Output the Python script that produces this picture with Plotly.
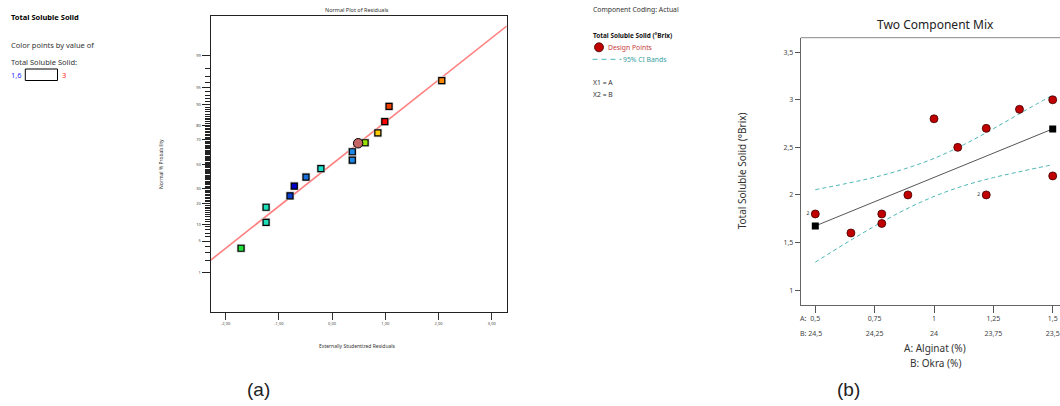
import plotly.graph_objects as go
from statistics import NormalDist

W, H = 1060, 406
OFF = 0  # body margin removed by post_script below
nd = NormalDist()

# ---------------- Data: (a) Normal plot of residuals ----------------
resid = [-1.71, -1.24, -1.24, -0.79, -0.71, -0.49, -0.21, 0.38, 0.38, 0.62, 0.86, 0.99, 1.07, 2.06]
prob = [3.6, 10.7, 17.9, 25.0, 32.1, 39.3, 46.4, 53.6, 60.7, 67.9, 75.0, 82.1, 89.3, 96.4]
point_colors = ['#22e03a', '#1de0b8', '#1de0b8', '#0b3fd0', '#0000c8', '#1a6fd8', '#19e0c8',
                '#1e88e8', '#1e88e8', '#9ae600', '#ffcc00', '#ff0000', '#f04000', '#ff8800']
sel_resid = [0.49]
sel_prob = [67.5]
fit_resid = [-2.28, 3.28]
fit_prob = [2.0, 99.85]
prob_ticks = [1, 5, 10, 20, 30, 50, 70, 80, 90, 95, 99]
prob_minor = [p for p in range(1, 100) if p not in prob_ticks]
resid_ticks = [-2, -1, 0, 1, 2, 3]
resid_ticktext = ['-2,00', '-1,00', '0,00', '1,00', '2,00', '3,00']

# ---------------- Data: (b) Two component mix ----------------
alginat = [0.5, 0.65, 0.78, 0.78, 0.89, 1.0, 1.1, 1.22, 1.22, 1.36, 1.5, 1.5]
tss = [1.8, 1.6, 1.8, 1.7, 2.0, 2.8, 2.5, 2.7, 2.0, 2.9, 3.0, 2.2]
replicate_label = ['2', '', '', '', '', '', '', '', '2', '', '', '']
fit_alginat = [0.5, 1.5]
fit_tss = [1.674, 2.694]
band_alginat = [0.5, 0.625, 0.75, 0.875, 1.0, 1.125, 1.25, 1.375, 1.5]
band_upper = [2.055, 2.117, 2.186, 2.273, 2.384, 2.528, 2.696, 2.875, 3.05]
band_lower = [1.293, 1.487, 1.672, 1.841, 1.984, 2.096, 2.182, 2.252, 2.318]
a_ticks = [0.5, 0.75, 1.0, 1.25, 1.5]
a_ticktext = ['0,5', '0,75', '1', '1,25', '1,5']
b_ticktext = ['24,5', '24,25', '24', '23,75', '23,5']
y_ticks = [1, 1.5, 2, 2.5, 3, 3.5]
y_ticktext = ['1', '1,5', '2', '2,5', '3', '3,5']

FONT = 'Noto Sans'


def z(p):
    return nd.inv_cdf(p / 100.0)


def X(px):
    return (px - OFF) / W


def Y(py):
    return 1 - (py - OFF) / H


fig = go.Figure()

# ---- (a) traces ----
fig.add_trace(go.Scatter(x=fit_resid, y=[z(p) for p in fit_prob], mode='lines',
                         line=dict(color='#ff8080', width=1.6), xaxis='x', yaxis='y',
                         showlegend=False, hoverinfo='skip'))
fig.add_trace(go.Scatter(x=resid, y=[z(p) for p in prob], mode='markers',
                         marker=dict(symbol='square', size=8.5, color='#c8c8c8', line=dict(width=0)),
                         xaxis='x', yaxis='y', showlegend=False, hoverinfo='skip'))
fig.add_trace(go.Scatter(x=resid, y=[z(p) for p in prob], mode='markers',
                         marker=dict(symbol='square', size=6, color=point_colors,
                                     line=dict(color='#000000', width=1.2)),
                         xaxis='x', yaxis='y', showlegend=False))
fig.add_trace(go.Scatter(x=sel_resid, y=[z(p) for p in sel_prob], mode='markers',
                         marker=dict(symbol='circle', size=9.5, color='#c46464',
                                     line=dict(color='#000000', width=1)),
                         xaxis='x', yaxis='y', showlegend=False))

# ---- (b) traces ----
fig.add_trace(go.Scatter(x=band_alginat, y=band_upper, mode='lines', line_shape='spline',
                         line=dict(color='#4db6b6', width=1, dash='4px,3px'),
                         xaxis='x2', yaxis='y2', showlegend=False, hoverinfo='skip'))
fig.add_trace(go.Scatter(x=band_alginat, y=band_lower, mode='lines', line_shape='spline',
                         line=dict(color='#4db6b6', width=1, dash='4px,3px'),
                         xaxis='x2', yaxis='y2', showlegend=False, hoverinfo='skip'))
fig.add_trace(go.Scatter(x=fit_alginat, y=fit_tss, mode='lines+markers',
                         line=dict(color='#555555', width=1),
                         marker=dict(symbol='square', size=7, color='#000000'),
                         xaxis='x2', yaxis='y2', showlegend=False))
fig.add_trace(go.Scatter(x=alginat, y=tss, mode='markers+text', text=replicate_label,
                         textposition='middle left', textfont=dict(size=5, color='#333333', family=FONT),
                         marker=dict(symbol='circle', size=8, color='#c00000',
                                     line=dict(color='#400000', width=0.8)),
                         xaxis='x2', yaxis='y2', showlegend=False))
# invisible trace to activate overlaid B-axis
fig.add_trace(go.Scatter(x=a_ticks, y=[None] * len(a_ticks), mode='markers',
                         xaxis='x3', yaxis='y2', showlegend=False, hoverinfo='skip'))

small_tick_font = dict(family=FONT, size=4, color='#444444')
x2_range = [0.4385, 1.5644]
x2_right_px = 1068.0
x2_domain_right = min(1.0, X(x2_right_px))
# clip the range at the figure's right edge (the reference is cut there)
x2_range = [x2_range[0], x2_range[0] + (x2_range[1] - x2_range[0]) *
            (x2_domain_right * W + OFF - 800.7) / (x2_right_px - 800.7)]

fig.update_layout(
    width=W, height=H, margin=dict(l=0, r=0, t=0, b=0),
    paper_bgcolor='white', plot_bgcolor='white',
    font=dict(family=FONT, color='#333333'),
    xaxis=dict(domain=[X(210.7), X(506.7)], range=[-2.28, 3.28], anchor='y',
               tickmode='array', tickvals=resid_ticks, ticktext=resid_ticktext,
               ticks='outside', ticklen=7, tickwidth=1.2, tickcolor='#333333',
               tickfont=small_tick_font, showgrid=False, zeroline=False,
               showline=True, linecolor='#222222', linewidth=1.3, mirror=True),
    yaxis=dict(domain=[Y(311.7), Y(15.7)], range=[-3.16, 3.19], anchor='x',
               tickmode='array', tickvals=[z(p) for p in prob_ticks], ticktext=[str(p) for p in prob_ticks],
               ticks='outside', ticklen=8, tickwidth=1, tickcolor='#222222',
               tickfont=small_tick_font, showgrid=False, zeroline=False,
               showline=True, linecolor='#222222', linewidth=1.3, mirror=True,
               minor=dict(tickmode='array', tickvals=[z(p) for p in prob_minor], ticks='outside',
                          ticklen=5, tickwidth=1, tickcolor='#222222', showgrid=False)),
    xaxis2=dict(domain=[X(800.7), x2_domain_right], range=x2_range, anchor='y2',
                tickmode='array', tickvals=a_ticks, ticktext=a_ticktext,
                ticks='outside', ticklen=7, tickwidth=1, tickcolor='#555555',
                tickfont=dict(family=FONT, size=7, color='#444444'), ticklabeloverflow='allow',
                showgrid=False, zeroline=False, showline=True, linecolor='#666666', linewidth=1),
    xaxis3=dict(overlaying='x2', range=x2_range, anchor='y2', side='bottom',
                tickmode='array', tickvals=a_ticks, ticktext=b_ticktext, ticks='',
                ticklabelstandoff=23, ticklabeloverflow='allow',
                tickfont=dict(family=FONT, size=7, color='#444444'),
                showgrid=False, zeroline=False, showline=False),
    yaxis2=dict(domain=[Y(304.7), Y(37.7)], range=[0.846, 3.653], anchor='x2',
                tickmode='array', tickvals=y_ticks, ticktext=y_ticktext,
                ticks='outside', ticklen=5, tickwidth=1, tickcolor='#555555',
                tickfont=dict(family=FONT, size=7, color='#444444'),
                showgrid=False, zeroline=False, showline=True, linecolor='#666666', linewidth=1),
)

shapes = [
    # colour scale box
    dict(type='rect', xref='paper', yref='paper', x0=X(25.3), x1=X(57.5), y0=Y(80.5), y1=Y(69),
         line=dict(color='#000000', width=1), fillcolor='white'),
    # top frame of right chart
    dict(type='line', xref='paper', yref='paper', x0=X(800.7), x1=1.0, y0=Y(37.7), y1=Y(37.7),
         line=dict(color='#888888', width=1)),
    # legend symbols
    dict(type='circle', xref='paper', yref='paper', x0=X(594.5), x1=X(603.5), y0=Y(51.8), y1=Y(42.8),
         line=dict(color='#400000', width=0.8), fillcolor='#c00000'),
    dict(type='line', xref='paper', yref='paper', x0=X(592.5), x1=X(621.5), y0=Y(59.3), y1=Y(59.3),
         line=dict(color='#4db6b6', width=1, dash='5px,4px')),
]
fig.update_layout(shapes=shapes)


def ann(text, x, y, size, color='#333333', xanchor='left', angle=0, family=FONT):
    return dict(text=text, x=X(x), y=Y(y), xref='paper', yref='paper', showarrow=False,
                xanchor=xanchor, yanchor='middle', textangle=angle,
                font=dict(family=family, size=size, color=color))


annotations = [
    ann('<b>Total Soluble Solid</b>', 9, 17.3, 7.5, '#000000'),
    ann('Color points by value of', 9, 45, 7.5),
    ann('Total Soluble Solid:', 9, 61.5, 7.5),
    ann('1,6', 9, 75.3, 7.5, '#3030ff'),
    ann('3', 60, 75.3, 7.5, '#ff2020'),
    ann('Normal Plot of Residuals', 357, 10, 5.5, '#333333', 'center'),
    ann('Externally Studentized Residuals', 357, 345.7, 5, '#333333', 'center'),
    ann('Normal % Probability', 161, 164, 5, '#333333', 'center', -90),
    ann('Component Coding: Actual', 591, 10, 6.8),
    ann('<b>Total Soluble Solid (°Brix)</b>', 591, 35.3, 6.4, '#111111'),
    ann('Design Points', 606, 47.3, 6.8, '#c83c3c'),
    ann('95% CI Bands', 621, 59.3, 6.8, '#3a9f9f'),
    ann('X1 = A', 591, 82.7, 6.8),
    ann('X2 = B', 591, 94.7, 6.8),
    ann('Two Component Mix', 935, 24.3, 12, '#222222', 'center'),
    ann('Total Soluble Solid (°Brix)', 742.3, 171, 10, '#333333', 'center', -90),
    ann('A:', 798, 318.3, 7, '#444444'),
    ann('B:', 798, 333, 7, '#444444'),
    ann('A: Alginat (%)', 935, 348.3, 10, '#333333', 'center'),
    ann('B: Okra (%)', 935, 362.7, 10, '#333333', 'center'),
    ann('(a)', 258, 389, 19, '#222222', 'center', 0, 'Liberation Sans'),
    ann('(b)', 848, 389, 19, '#222222', 'center', 0, 'Liberation Sans'),
]
fig.update_layout(annotations=annotations)

fig.write_html('out.html', config={'displayModeBar': False},
               post_script="document.body.style.margin='0px';document.body.style.overflow='hidden';")
